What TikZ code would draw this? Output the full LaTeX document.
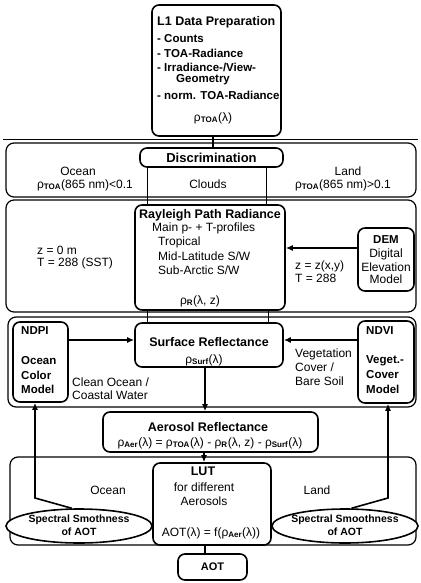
\documentclass[tikz,border=0pt]{standalone}
\usepackage{fontspec}
\setmainfont{Liberation Sans}
\usetikzlibrary{arrows.meta,shapes.geometric}
\newcommand{\rhosub}[1]{ρ\textsubscript{\bfseries #1}}
\begin{document}
\begin{tikzpicture}[x=1pt,y=-1pt,
  panel/.style={draw, line width=1.2pt, rounded corners=8pt, inner sep=0pt},
  box/.style={draw, line width=1.6pt, rounded corners=7pt, inner sep=0pt, fill=white},
  ell/.style={draw, ellipse, line width=1.6pt, inner sep=0pt, fill=white},
  txt/.style={inner sep=0pt, font=\fontsize{12}{13}\selectfont},
  btxt/.style={inner sep=0pt, font=\fontsize{11.5}{13}\selectfont\bfseries},
  etxt/.style={inner sep=0pt, font=\fontsize{10.5}{12}\selectfont\bfseries},
  ttl/.style={inner sep=0pt, font=\fontsize{12.5}{14}\selectfont\bfseries},
  conn/.style={line width=1.6pt},
  thinl/.style={line width=1.2pt},
  arr/.style={conn, -{Latex[length=7pt,width=6pt]}}
]
\useasboundingbox (0,0) rectangle (420,583);

% panels
\draw[thinl] (3,139.5) -- (418,139.5);
\node[panel, minimum width=410, minimum height=54] (p1) at (211,170) {};
\node[panel, minimum width=410, minimum height=112] (p2) at (211,256) {};
\node[panel, minimum width=408, minimum height=90] (p3) at (212,362) {};
\node[panel, minimum width=406, minimum height=88] (p4) at (213,501) {};

% L1 box
\node[box, minimum width=129, minimum height=131] (l1) at (216.5,70.5) {};
\node[ttl, anchor=west] (l1t) at (157,22) {L1 Data Preparation};
\node[btxt, anchor=west] (l1a) at (157,39) {- Counts};
\node[btxt, anchor=west] (l1b) at (157,53) {- TOA-Radiance};
\node[btxt, anchor=west] (l1c) at (157,67) {- Irradiance-/View-};
\node[btxt, anchor=west] (l1d) at (176,80) {Geometry};
\node[btxt, anchor=west] (l1e) at (157,95) {- norm. TOA-Radiance};
\node[txt] (l1f) at (213,118) {\rhosub{TOA}(λ)};

% Discrimination
\node[box, minimum width=143, minimum height=19, font=\fontsize{13}{14}\selectfont\bfseries] (disc) at (211.5,157.5) {Discrimination};
\node[txt] (oc1) at (78,171) {Ocean};
\node[txt] (oc2) at (85,185) {\rhosub{TOA}(865 nm)<0.1};
\node[txt] (cl) at (208,184) {Clouds};
\node[txt] (la1) at (348,171) {Land};
\node[txt] (la2) at (343,185) {\rhosub{TOA}(865 nm)>0.1};

% Rayleigh
\node[box, minimum width=150, minimum height=105] (ray) at (210,257.5) {};
\node[ttl] (rt) at (210,215) {Rayleigh Path Radiance};
\node[txt, anchor=west] (r1) at (152,228) {Main p- + T-profiles};
\node[txt, anchor=west] (r2) at (158,242) {Tropical};
\node[txt, anchor=west] (r3) at (158,256) {Mid-Latitude S/W};
\node[txt, anchor=west] (r4) at (158,270) {Sub-Arctic S/W};
\node[txt] (r5) at (200,301) {\rhosub{R}(λ, z)};
\node[txt, anchor=west] (z1) at (37,250) {z = 0 m};
\node[txt, anchor=west] (z2) at (37,263) {T = 288 (SST)};
\node[txt, anchor=west] (z3) at (295,266) {z = z(x,y)};
\node[txt, anchor=west] (z4) at (295,278) {T = 288};

% DEM
\node[box, minimum width=56, minimum height=63] (dem) at (386,259.5) {};
\node[btxt] (d1) at (386,240) {DEM};
\node[txt] (d2) at (386,254) {Digital};
\node[txt] (d3) at (386,267) {Elevation};
\node[txt] (d4) at (386,279) {Model};

% Surface
\node[box, minimum width=148, minimum height=44] (surf) at (209,345) {};
\node[ttl] (s1) at (209,342) {Surface Reflectance};
\node[txt] (s2) at (204,360) {\rhosub{Surf}(λ)};

% NDPI
\node[box, minimum width=55, minimum height=80] (ndpi) at (40.5,362) {};
\node[btxt, anchor=west] (n1) at (21,331) {NDPI};
\node[btxt, anchor=west] (n2) at (21,361) {Ocean};
\node[btxt, anchor=west] (n3) at (21,375) {Color};
\node[btxt, anchor=west] (n4) at (21,389) {Model};
\node[txt, anchor=west] (c1) at (72,382) {Clean Ocean /};
\node[txt, anchor=west] (c2) at (72,395) {Coastal Water};

% NDVI
\node[box, minimum width=56, minimum height=82] (ndvi) at (386,362) {};
\node[btxt, anchor=west] (v1) at (366,331) {NDVI};
\node[btxt, anchor=west] (v2) at (366,361) {Veget.-};
\node[btxt, anchor=west] (v3) at (366,375) {Cover};
\node[btxt, anchor=west] (v4) at (366,389) {Model};
\node[txt, anchor=west] (g1) at (295,354) {Vegetation};
\node[txt, anchor=west] (g2) at (295,367) {Cover /};
\node[txt, anchor=west] (g3) at (295,381) {Bare Soil};

% Aerosol
\node[box, minimum width=215, minimum height=40] (aer) at (210.5,432) {};
\node[ttl] (a1) at (208,427) {Aerosol Reflectance};
\node[txt] (a2) at (210,443) {\rhosub{Aer}(λ) = \rhosub{TOA}(λ) - \rhosub{R}(λ, z) - \rhosub{Surf}(λ)};

% LUT
\node[box, minimum width=118, minimum height=82] (lut) at (212,504) {};
\node[ttl] (u1) at (203,471) {LUT};
\node[txt] (u2) at (204,487) {for different};
\node[txt] (u3) at (204,501) {Aerosols};
\node[txt] (u4) at (211,533) {AOT(λ) = f(\rhosub{Aer}(λ))};
\node[txt] (o4) at (108,490) {Ocean};
\node[txt] (l4) at (317,490) {Land};

% ellipses
\node[ell, minimum width=146, minimum height=34] (eL) at (79,526) {};
\node[etxt] (e1) at (79,520) {Spectral Smothness};
\node[etxt] (e2) at (79,532) {of AOT};
\node[ell, minimum width=146, minimum height=34] (eR) at (345,526) {};
\node[etxt] (e3) at (345,520) {Spectral Smoothness};
\node[etxt] (e4) at (345,532) {of AOT};

% AOT
\node[box, minimum width=69, minimum height=26, font=\fontsize{11}{13}\selectfont\bfseries] (aot) at (212.5,567) {AOT};

% connectors
\draw[conn] ([xshift=-3.5pt]l1.south) -- ([xshift=-3.5pt]l1.south |- disc.north);
\draw[thinl] ([xshift=8pt]disc.south west) -- ([xshift=8pt]disc.south west |- ray.north);
\draw[thinl] ([xshift=-17pt]disc.south east) -- ([xshift=-17pt]disc.south east |- ray.north);
\draw[thinl] ([xshift=13pt]ray.south west) -- ([xshift=13pt]ray.south west |- surf.north);
\draw[thinl] ([xshift=-17pt]ray.south east) -- ([xshift=-17pt]ray.south east |- surf.north);
\draw[arr] ([yshift=11.5pt]dem.west) -- ([yshift=11.5pt]dem.west -| ray.east);
\draw[arr] ([yshift=22pt]ndpi.east) -- ([yshift=22pt]ndpi.east -| surf.west);
\draw[arr] ([yshift=22pt]ndvi.west) -- ([yshift=22pt]ndvi.west -| surf.east);
\draw[arr] ([xshift=-4pt]surf.south) -- ([xshift=-4pt]surf.south |- aer.north);
\draw[arr] ([xshift=-6.5pt]aer.south) -- ([xshift=-6.5pt]aer.south |- lut.north);
\draw[conn] ([xshift=-7pt]lut.south) -- ([xshift=-7pt]lut.south |- aot.north);
\draw[arr] (eL.112) -- (35,498) -- ([xshift=-5.5pt]ndpi.south);
\draw[arr] (eR.70) -- (388,498) -- ([xshift=2pt]ndvi.south);
\end{tikzpicture}
\end{document}
